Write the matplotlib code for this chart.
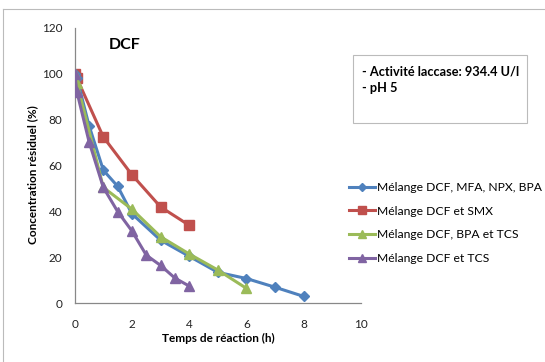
import matplotlib
matplotlib.use("Agg")
import matplotlib.pyplot as plt
from matplotlib.patches import Rectangle
from matplotlib.lines import Line2D

plt.rcParams['font.family'] = ['Lato', 'DejaVu Sans']

# data
t_mix4 = [0, 0.08, 0.5, 1, 1.5, 2, 3, 4, 5, 6, 7, 8]
c_mix4 = [100, 98, 77.5, 58, 51, 39, 27.5, 20.5, 13.5, 10.8, 7, 3]
t_smx = [0, 0.08, 1, 2, 3, 4]
c_smx = [100, 98, 72.5, 56, 42, 34]
t_bpa_tcs = [0, 0.08, 1, 2, 3, 4, 5, 6]
c_bpa_tcs = [100, 96, 50.5, 41, 29, 21.5, 14.5, 6.5]
t_tcs = [0, 0.08, 0.5, 1, 1.5, 2, 2.5, 3, 3.5, 4]
c_tcs = [100, 92, 70.5, 50.5, 40, 31.5, 21, 16.5, 11, 7.5]

labels = ["Mélange DCF, MFA, NPX, BPA", "Mélange DCF et SMX",
          "Mélange DCF, BPA et TCS", "Mélange DCF et TCS"]
xticks = [0, 2, 4, 6, 8, 10]
yticks = [0, 20, 40, 60, 80, 100, 120]

W, H = 545, 362
fig = plt.figure(figsize=(W / 100, H / 100), dpi=100)

def fx(px):
    return px / W

def fy(py):
    return 1 - py / H

ax = fig.add_axes([fx(74.7), fy(303.3), fx(361) - fx(74.7), fy(28) - fy(303.3)])

ax.plot(t_mix4, c_mix4, color='#4F81BD', marker='D', ms=5.5, lw=2.2, label=labels[0], zorder=3)
ax.plot(t_smx, c_smx, color='#C0504D', marker='s', ms=7, lw=2.2, label=labels[1], zorder=2)
ax.plot(t_bpa_tcs, c_bpa_tcs, color='#9BBB59', marker='^', ms=7.5, lw=2.2, label=labels[2], zorder=4)
ax.plot(t_tcs, c_tcs, color='#8064A2', marker='^', ms=7.5, lw=2.2, label=labels[3], zorder=5)

ax.set_xlim(0, 10)
ax.set_ylim(0, 120)
ax.set_xticks(xticks)
ax.set_yticks(yticks)
ax.tick_params(length=0, labelsize=8.5, colors='#222222')
ax.tick_params(axis='x', pad=11)
ax.tick_params(axis='y', pad=9)
for s in ['top', 'right']:
    ax.spines[s].set_visible(False)
for s in ['left', 'bottom']:
    ax.spines[s].set_color('#888888')
    ax.spines[s].set_linewidth(0.9)

fig.text(fx(218), fy(338), "Temps de réaction (h)", fontsize=8.5, fontweight='bold',
         ha='center', va='center')
fig.text(fx(33), fy(175), "Concentration résiduel (%)", fontsize=8.5, fontweight='bold',
         ha='center', va='center', rotation=90)
fig.text(fx(109), fy(45), "DCF", fontsize=11.5, fontweight='bold', ha='left', va='center')

# note box
fig.patches.append(Rectangle((fx(352.7), fy(123)), fx(527) - fx(352.7), fy(55) - fy(123),
                             transform=fig.transFigure, fill=False, edgecolor='#BBBBBB', lw=0.8))
fig.text(fx(361.5), fy(72), "- Activité laccase: 934.4 U/l", fontsize=9.2, fontweight='bold',
         ha='left', va='center')
fig.text(fx(361.5), fy(88), "- pH 5", fontsize=9.2, fontweight='bold', ha='left', va='center')

leg = fig.legend(loc='upper left', bbox_to_anchor=(fx(338), fy(171)), frameon=False,
                 fontsize=8.7, handlelength=2.2, handletextpad=0.15, labelspacing=1.05,
                 markerscale=0.75)

# chart area border (top and left visible)
fig.add_artist(Line2D([fx(3), 1], [fy(9), fy(9)], transform=fig.transFigure, color='#BBBBBB', lw=0.8))
fig.add_artist(Line2D([fx(3), fx(3)], [fy(9), 0], transform=fig.transFigure, color='#BBBBBB', lw=0.8))

fig.savefig("out.png", dpi=100)
